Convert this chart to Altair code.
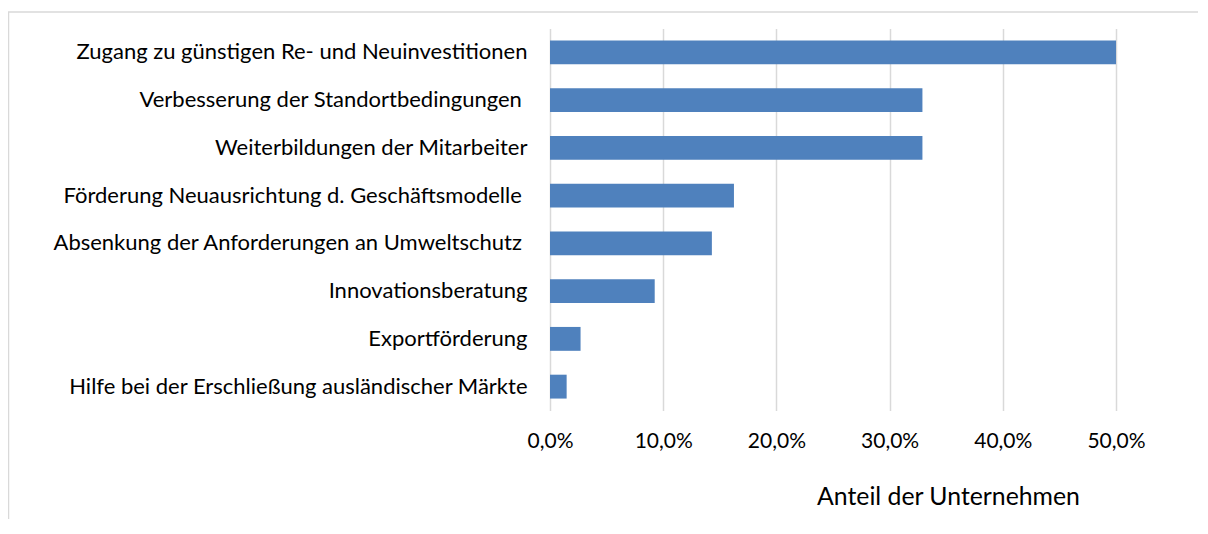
import altair as alt
import pandas as pd

categories = [
    "Zugang zu günstigen Re- und Neuinvestitionen",
    "Verbesserung der Standortbedingungen\u00a0\u200b",
    "Weiterbildungen der Mitarbeiter",
    "Förderung Neuausrichtung d. Geschäftsmodelle\u00a0\u200b",
    "Absenkung der Anforderungen an Umweltschutz\u00a0\u200b",
    "Innovationsberatung",
    "Exportförderung",
    "Hilfe bei der Erschließung ausländischer Märkte",
]
values = [0.500, 0.329, 0.329, 0.1625, 0.143, 0.0925, 0.027, 0.0147]
x_ticks = [0.0, 0.1, 0.2, 0.3, 0.4, 0.5]

df = pd.DataFrame({"Kategorie": categories, "Anteil": values})

FONT = "Lato"

bars = alt.Chart(df).mark_bar(color="#4F81BD").encode(
    x=alt.X(
        "Anteil:Q",
        scale=alt.Scale(domain=[0, 0.5], nice=False),
        axis=alt.Axis(
            values=x_ticks,
            labelExpr="replace(format(datum.value, '.1%'), '.', ',')",
            labelFlush=False,
            title="Anteil der Unternehmen",
            grid=True,
            gridColor="#D9D9D9",
            gridWidth=1.5,
            domain=False,
            ticks=False,
            labelPadding=20,
            labelFontSize=21,
            labelFont=FONT,
            labelColor="#000000",
            titleFont=FONT,
            titleFontSize=24.8,
            titleFontWeight="normal",
            titleColor="#000000",
            titleX=398,
            titleY=87,
            titleAlign="center",
            titleBaseline="middle",
        ),
    ),
    y=alt.Y(
        "Kategorie:N",
        sort=categories,
        scale=alt.Scale(paddingInner=0.5, paddingOuter=0.25),
        axis=alt.Axis(
            title=None,
            domain=False,
            ticks=False,
            labelPadding=23,
            labelFontSize=22,
            labelFont=FONT,
            labelColor="#000000",
            labelLimit=700,
        ),
    ),
)

frame = alt.Chart(pd.DataFrame({"a": [0]})).mark_rect(
    fill=None, stroke="#D9D9D9", strokeWidth=1.5
).encode(
    x=alt.value(-541.5),
    y=alt.value(-16.5),
    x2=alt.value(800),
    y2=alt.value(700),
)

chart = alt.layer(frame, bars).properties(
    width=566,
    height=382,
    autosize=alt.AutoSizeParams(type="none"),
    padding={"left": 542, "top": 20.5, "right": 82, "bottom": 108},
).configure_view(stroke=None)

chart.save("out.html", embed_options={"renderer": "svg", "actions": False})
